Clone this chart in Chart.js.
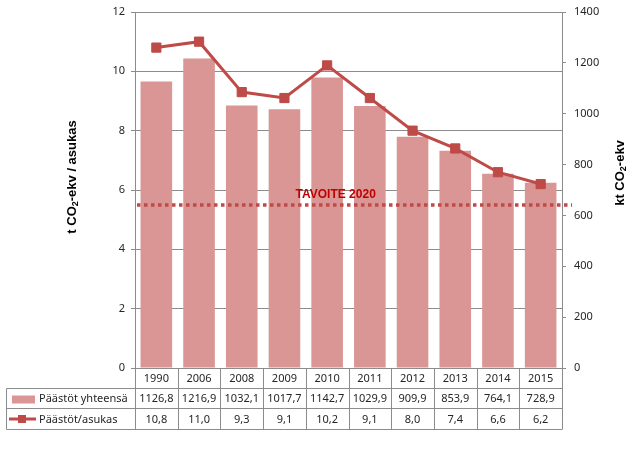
<!DOCTYPE html>
<html>
<head>
<meta charset="utf-8">
<script src="https://cdn.jsdelivr.net/npm/chart.js@4.4.1/dist/chart.umd.min.js"></script>
<style>
  html, body { margin: 0; padding: 0; background: #fff; }
</style>
</head>
<body>
<canvas id="myChart" width="635" height="452"></canvas>
<script>
// Data
const years = ['1990', '2006', '2008', '2009', '2010', '2011', '2012', '2013', '2014', '2015'];
const totalKt = [1126.8, 1216.9, 1032.1, 1017.7, 1142.7, 1029.9, 909.9, 853.9, 764.1, 728.9];
const perCapita = [10.8, 11.0, 9.3, 9.1, 10.2, 9.1, 8.0, 7.4, 6.6, 6.2];
const target2020 = 5.5;
const seriesNames = ['Päästöt yhteensä', 'Päästöt/asukas'];

const barColor = '#d99694';
const lineColor = '#be4b48';
const gridColor = '#8c8c8c';
const textColor = '#262626';
const font = 'Noto Sans';

function fmt(v) {
  return v.toFixed(1).replace('.', ',');
}

// rotated title with a subscript "2"
function drawTitle(ctx, parts, cx, cy) {
  ctx.save();
  ctx.translate(cx, cy);
  ctx.rotate(-Math.PI / 2);
  const big = 'bold 13px "Liberation Sans"';
  const small = 'bold 9px "Liberation Sans"';
  let total = 0;
  parts.forEach(p => { ctx.font = p.sub ? small : big; total += ctx.measureText(p.t).width; });
  let x = -total / 2;
  ctx.fillStyle = '#000';
  ctx.textBaseline = 'middle';
  ctx.textAlign = 'left';
  parts.forEach(p => {
    ctx.font = p.sub ? small : big;
    ctx.fillText(p.t, x, p.sub ? 4 : 0);
    x += ctx.measureText(p.t).width;
  });
  ctx.restore();
}

const extrasPlugin = {
  id: 'extras',
  afterDatasetsDraw(chart) {
    // Dotted target line + label
    const { ctx, chartArea: a, scales: { y } } = chart;
    const py = Math.round(y.getPixelForValue(target2020));
    ctx.save();
    ctx.strokeStyle = lineColor;
    ctx.lineWidth = 3.5;
    ctx.setLineDash([3.5, 3.5]);
    ctx.beginPath();
    ctx.moveTo(a.left + 2, py);
    ctx.lineTo(a.right + 10, py);
    ctx.stroke();
    ctx.setLineDash([]);
    ctx.font = 'bold 12px "Liberation Sans"';
    ctx.fillStyle = '#c00000';
    ctx.textAlign = 'center';
    ctx.textBaseline = 'middle';
    ctx.fillText('TAVOITE 2020', a.left + (a.right - a.left) * 0.47, py - 10);
    ctx.restore();
  },
  afterDraw(chart) {
    const { ctx, chartArea: a, scales: { x } } = chart;
    const w = x.getPixelForValue(1) - x.getPixelForValue(0);
    const left = x.getPixelForValue(0) - w / 2;
    const r0 = Math.round(a.bottom) + 0.5;
    const r1 = r0 + 20, r2 = r1 + 20, r3 = r2 + 21;
    const tl = 6.5;

    ctx.save();
    ctx.strokeStyle = gridColor;
    ctx.lineWidth = 1;
    ctx.beginPath();
    ctx.moveTo(left, r0); ctx.lineTo(a.right, r0);
    [r1, r2, r3].forEach(r => { ctx.moveTo(tl, r); ctx.lineTo(a.right, r); });
    ctx.moveTo(tl, r1); ctx.lineTo(tl, r3);
    for (let i = 0; i <= years.length; i++) {
      const cx = Math.round(left + i * w) + 0.5;
      ctx.moveTo(cx, r0); ctx.lineTo(cx, r3);
    }
    ctx.stroke();

    // row headers
    ctx.fillStyle = barColor;
    ctx.fillRect(12, r1 + 7, 23, 8);
    ctx.strokeStyle = lineColor;
    ctx.lineWidth = 3;
    ctx.beginPath();
    ctx.moveTo(9, r2 + 10.5); ctx.lineTo(36, r2 + 10.5);
    ctx.stroke();
    ctx.fillStyle = lineColor;
    ctx.fillRect(18, r2 + 6.5, 8, 8);

    ctx.fillStyle = textColor;
    ctx.font = '11px "' + font + '"';
    ctx.textBaseline = 'middle';
    ctx.textAlign = 'left';
    ctx.fillText(seriesNames[0], 39, r1 + 10.5);
    ctx.fillText(seriesNames[1], 39, r2 + 11);

    ctx.textAlign = 'center';
    years.forEach((yr, i) => {
      const cx = x.getPixelForValue(i);
      ctx.fillText(yr, cx, r0 + 10);
      ctx.fillText(fmt(totalKt[i]), cx, r1 + 10.5);
      ctx.fillText(fmt(perCapita[i]), cx, r2 + 11);
    });
    ctx.restore();

    drawTitle(ctx, [{ t: 't CO' }, { t: '2', sub: true }, { t: '-ekv / asukas' }], 72, 177);
    drawTitle(ctx, [{ t: 'kt CO' }, { t: '2', sub: true }, { t: '-ekv' }], 620, 173);
  }
};

const canvas = document.getElementById('myChart');
const ctx = canvas.getContext('2d');

const data = {
  labels: years,
  datasets: [
    {
      type: 'line',
      label: seriesNames[1],
      data: perCapita,
      yAxisID: 'y',
      borderColor: lineColor,
      backgroundColor: lineColor,
      borderWidth: 3,
      pointStyle: 'rect',
      pointRadius: 6.5,
      pointBorderWidth: 1,
      pointBackgroundColor: lineColor,
      pointBorderColor: lineColor,
      tension: 0,
      order: 0
    },
    {
      type: 'bar',
      label: seriesNames[0],
      data: totalKt,
      yAxisID: 'y1',
      backgroundColor: barColor,
      borderWidth: 0,
      categoryPercentage: 1,
      barPercentage: 0.74,
      order: 1
    }
  ]
};

const options = {
  responsive: false,
  animation: false,
  devicePixelRatio: 1,
  layout: { padding: { top: 12, left: 0, right: 0, bottom: 0 } },
  plugins: {
    legend: { display: false },
    tooltip: { enabled: false }
  },
  scales: {
    x: {
      grid: { display: false },
      border: { display: false },
      ticks: { display: false },
      afterFit: s => { s.height = 84; }
    },
    y: {
      position: 'left',
      min: 0, max: 12,
      ticks: { stepSize: 2, color: textColor, font: { family: font, size: 11 }, padding: 6 },
      grid: { color: gridColor, tickLength: 4 },
      border: { color: gridColor },
      afterFit: s => { s.width = 135; s.paddingTop = 0; s.paddingBottom = 0; }
    },
    y1: {
      position: 'right',
      min: 0, max: 1400,
      ticks: {
        stepSize: 200, color: textColor, font: { family: font, size: 11 }, padding: 8,
        callback: v => String(v)
      },
      grid: { drawOnChartArea: false, color: gridColor, tickLength: 4 },
      border: { color: gridColor },
      afterFit: s => { s.width = 73; s.paddingTop = 0; s.paddingBottom = 0; }
    }
  }
};

const myChart = new Chart(ctx, {
  type: 'bar',
  data: data,
  options: options,
  plugins: [extrasPlugin]
});
</script>
</body>
</html>
